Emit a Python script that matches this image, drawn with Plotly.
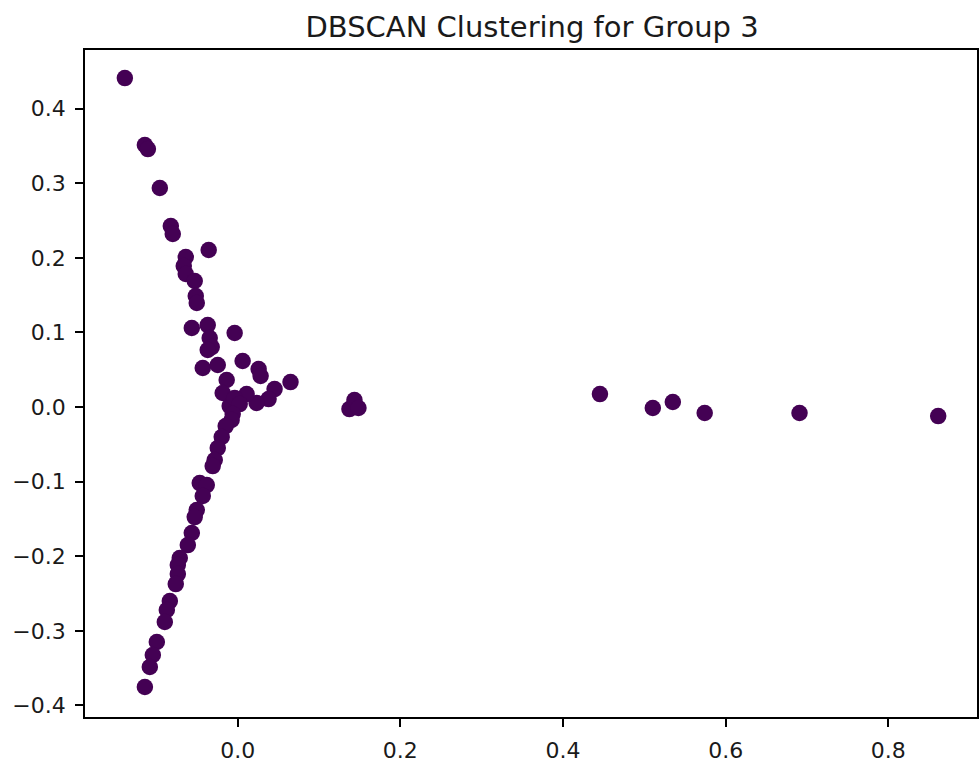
import plotly.graph_objects as go

# Projected coordinates of the Group 3 samples (all in one DBSCAN cluster)
x_vals = [
    -0.1387, -0.1141, -0.1104, -0.0957, -0.0822, -0.0798, -0.0356, -0.0638,
    -0.0663, -0.0638, -0.0528, -0.0515, -0.0503, -0.0564, -0.0368, -0.0344,
    -0.0319, -0.0037, -0.0429, -0.0245, 0.0061, 0.0258, 0.0282, 0.0650,
    0.0454, 0.0380, 0.0233, 0.0110, -0.0135, -0.0184, -0.0098, -0.0037,
    0.0025, -0.0061, -0.0074, -0.0147, -0.0196, -0.0245, -0.0282, -0.0307,
    -0.0368,
    -0.0466, -0.0380, -0.0429, -0.0503, -0.0528, -0.0564, -0.0613, -0.0712,
    -0.0736, -0.0736, -0.0761, -0.0834, -0.0871, -0.0896, -0.0994, -0.1043,
    -0.1080, -0.1141,
    0.1374, 0.1436, 0.1485, 0.4454, 0.5104, 0.5350, 0.5742, 0.6908, 0.8613,
]
y_vals = [
    0.4410, 0.3512, 0.3458, 0.2936, 0.2426, 0.2319, 0.2105, 0.2011,
    0.1890, 0.1783, 0.1689, 0.1488, 0.1394, 0.1059, 0.1099, 0.0925,
    0.0804, 0.0992, 0.0523, 0.0563, 0.0617, 0.0509, 0.0416, 0.0335,
    0.0241, 0.0107, 0.0054, 0.0174, 0.0362, 0.0188, 0.0013, 0.0121,
    0.0040, -0.0094, -0.0174, -0.0255, -0.0402, -0.0550, -0.0710, -0.0791,
    0.0764,
    -0.1019, -0.1046, -0.1193, -0.1381, -0.1475, -0.1689, -0.1850, -0.2024,
    -0.2118, -0.2239, -0.2373, -0.2601, -0.2721, -0.2882, -0.3150, -0.3324,
    -0.3485, -0.3753,
    -0.0027, 0.0094, -0.0013, 0.0174, -0.0013, 0.0067, -0.0080, -0.0080, -0.0121,
]

x_ticks = [0.0, 0.2, 0.4, 0.6, 0.8]
y_ticks = [-0.4, -0.3, -0.2, -0.1, 0.0, 0.1, 0.2, 0.3, 0.4]
title_text = "DBSCAN Clustering for Group 3"
cluster_color = "#440154"

fig = go.Figure(
    go.Scatter(
        x=x_vals,
        y=y_vals,
        mode="markers",
        marker=dict(color=cluster_color, size=16.5, line=dict(width=0)),
        showlegend=False,
    )
)

axis_common = dict(
    showgrid=False,
    zeroline=False,
    showline=True,
    linecolor="black",
    linewidth=1.8,
    mirror=True,
    ticks="outside",
    ticklen=8,
    tickwidth=1.6,
    tickcolor="black",
    tickformat=".1f",
    ticklabelstandoff=5,
    tickfont=dict(family="DejaVu Sans", size=22, color="#1a1a1a"),
)

fig.update_xaxes(range=[-0.1877, 0.909], tickvals=x_ticks, **axis_common)
fig.update_yaxes(range=[-0.4155, 0.4786], tickvals=y_ticks, **axis_common)

fig.update_layout(
    width=979,
    height=764,
    margin=dict(l=85, r=0, t=50, b=47),
    paper_bgcolor="white",
    plot_bgcolor="white",
    title=dict(
        text=title_text,
        x=0.5435,
        xanchor="center",
        y=0.965,
        yanchor="middle",
        font=dict(family="DejaVu Sans", size=29, color="#1a1a1a"),
    ),
)

fig.write_html("out.html")
